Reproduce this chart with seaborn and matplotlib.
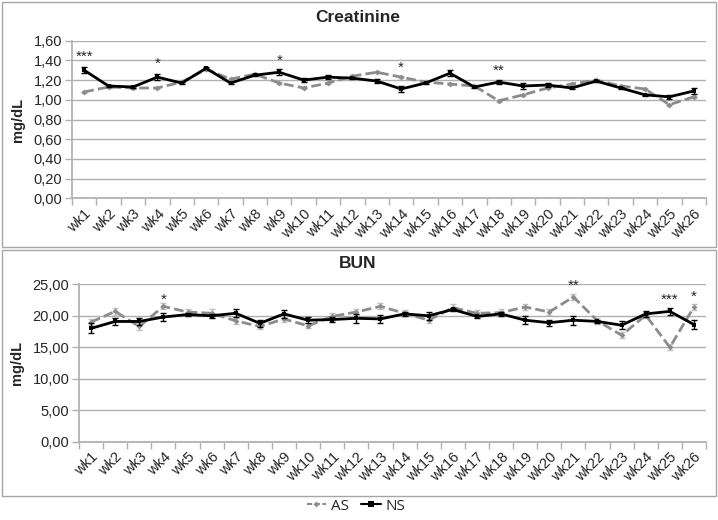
import numpy as np
import pandas as pd
import seaborn as sns
import matplotlib.pyplot as plt
from matplotlib.ticker import FuncFormatter, FixedLocator
from matplotlib.patches import Rectangle
from matplotlib.lines import Line2D

weeks = ['wk%d' % i for i in range(1, 27)]

# kreatinin (mg/dL)
crea_as = [1.08, 1.13, 1.12, 1.12, 1.18, 1.31, 1.21, 1.26, 1.17, 1.12, 1.17, 1.24, 1.28,
           1.23, 1.18, 1.16, 1.14, 0.99, 1.05, 1.12, 1.16, 1.20, 1.14, 1.11, 0.95, 1.03]
crea_as_err = [0.01, 0.01, 0.01, 0.01, 0.01, 0.02, 0.01, 0.01, 0.01, 0.01, 0.01, 0.01, 0.01,
               0.01, 0.01, 0.01, 0.01, 0.01, 0.01, 0.01, 0.01, 0.01, 0.01, 0.01, 0.01, 0.01]
crea_ns = [1.30, 1.14, 1.13, 1.23, 1.17, 1.32, 1.17, 1.25, 1.28, 1.20, 1.23, 1.22, 1.19,
           1.11, 1.17, 1.27, 1.13, 1.18, 1.14, 1.15, 1.12, 1.19, 1.12, 1.05, 1.03, 1.09]
crea_ns_err = [0.03, 0.01, 0.01, 0.03, 0.01, 0.01, 0.01, 0.01, 0.03, 0.02, 0.02, 0.01, 0.02,
               0.03, 0.01, 0.03, 0.01, 0.02, 0.03, 0.02, 0.01, 0.01, 0.01, 0.01, 0.02, 0.03]

# BUN (mg/dL)
bun_as = [19.0, 20.7, 18.3, 21.5, 20.6, 20.4, 19.2, 18.3, 19.5, 18.4, 19.9, 20.6, 21.5,
          20.4, 19.3, 21.3, 20.4, 20.5, 21.4, 20.6, 23.0, 19.2, 16.9, 20.1, 15.0, 21.4]
bun_as_err = [0.5, 0.5, 0.5, 0.5, 0.5, 0.6, 0.5, 0.4, 0.5, 0.4, 0.5, 0.5, 0.5,
              0.5, 0.5, 0.5, 0.5, 0.5, 0.5, 0.5, 0.5, 0.5, 0.5, 0.5, 0.5, 0.5]
bun_ns = [18.0, 19.1, 19.1, 19.8, 20.2, 20.0, 20.4, 18.8, 20.3, 19.3, 19.4, 19.6, 19.5,
          20.3, 20.0, 21.0, 19.9, 20.3, 19.3, 18.9, 19.3, 19.1, 18.5, 20.3, 20.7, 18.6]
bun_ns_err = [0.8, 0.6, 0.6, 0.6, 0.3, 0.3, 0.6, 0.6, 0.6, 0.5, 0.4, 0.7, 0.7,
              0.3, 0.6, 0.3, 0.3, 0.3, 0.6, 0.5, 0.7, 0.3, 0.6, 0.5, 0.6, 0.7]

# anlamlılık yıldızları: (hafta indeksi, y, metin)
crea_stars = [(0, 1.37, '***'), (3, 1.29, '*'), (8, 1.32, '*'), (13, 1.25, '*'), (17, 1.22, '**')]
bun_stars = [(3, 21.4, '*'), (20, 23.6, '**'), (24, 21.5, '***'), (25, 21.9, '*')]

sns.set_theme(style='white')
plt.rcParams['font.family'] = ['Liberation Sans', 'DejaVu Sans']

AS_COLOR = '#8c8c8c'
GRID = '#b0b0b0'

fig = plt.figure(figsize=(7.18, 5.2), dpi=100)
ax1 = fig.add_axes([72 / 718, 1 - 198.3 / 520, 634 / 718, 157.6 / 520])
ax2 = fig.add_axes([79 / 718, 1 - 441.7 / 520, 627 / 718, 157.4 / 520])

# panel çerçeveleri
fig.patches.append(Rectangle((2 / 718, 1 - 247 / 520), 714 / 718, 245 / 520,
                             transform=fig.transFigure, fill=False, ec='#a6a6a6', lw=1))
fig.patches.append(Rectangle((2 / 718, 1 - 496 / 520), 714 / 718, 246 / 520,
                             transform=fig.transFigure, fill=False, ec='#a6a6a6', lw=1))


def draw_panel(ax, as_vals, as_err, ns_vals, ns_err, ymax, step, stars, fmt):
    df = pd.DataFrame({'x': np.arange(len(weeks)), 'AS': as_vals, 'NS': ns_vals})
    x = df['x']
    ax.errorbar(x, as_vals, yerr=as_err, fmt='none', ecolor='#c0c0c0', elinewidth=1, capsize=2, zorder=2)
    sns.lineplot(data=df, x='x', y='AS', ax=ax, color=AS_COLOR, lw=2,
                 marker='D', markersize=3, markeredgewidth=0, zorder=3)
    ax.lines[-1].set_linestyle((0, (3.5, 1.5)))
    ax.errorbar(x, ns_vals, yerr=ns_err, fmt='none', ecolor='black', elinewidth=1, capsize=2, zorder=4)
    sns.lineplot(data=df, x='x', y='NS', ax=ax, color='black', lw=2,
                 marker='s', markersize=3.5, markeredgewidth=0, zorder=5)

    ax.set_xlim(-0.5, len(weeks) - 0.5)
    ax.set_ylim(0, ymax)
    ax.set_yticks(np.arange(0, ymax + step / 2, step))
    ax.yaxis.set_major_formatter(FuncFormatter(lambda v, p: fmt.format(v).replace('.', ',')))
    ax.set_xticks(np.arange(len(weeks)))
    ax.set_xticklabels(weeks, rotation=45, ha='right', rotation_mode='anchor', fontsize=10.5)
    ax.xaxis.set_minor_locator(FixedLocator(np.arange(-0.5, len(weeks), 1)))
    ax.tick_params(axis='x', which='major', length=0, pad=6)
    ax.tick_params(axis='x', which='minor', length=5, color=GRID, width=1, bottom=True)
    ax.tick_params(axis='y', length=5, color=GRID, width=1, left=True, labelsize=10.5, pad=2)
    ax.grid(axis='y', color=GRID, lw=1)
    ax.set_axisbelow(True)
    for s in ['top', 'right']:
        ax.spines[s].set_visible(False)
    ax.spines['left'].set_color(GRID)
    ax.spines['bottom'].set_color(GRID)
    ax.set_xlabel('')
    ax.set_ylabel('mg/dL', fontsize=10.5, fontweight='bold', labelpad=6)
    for i, yv, t in stars:
        ax.text(i, yv, t, ha='center', va='bottom', fontsize=11)


draw_panel(ax1, crea_as, crea_as_err, crea_ns, crea_ns_err, 1.6, 0.2, crea_stars, '{:.2f}')
draw_panel(ax2, bun_as, bun_as_err, bun_ns, bun_ns_err, 25, 5, bun_stars, '{:.2f}')

fig.text(358 / 718, 1 - 18 / 520, 'Creatinine', ha='center', va='center', fontsize=12.5, fontweight='bold')
fig.text(358 / 718, 1 - 263 / 520, 'BUN', ha='center', va='center', fontsize=12.5, fontweight='bold')

handles = [Line2D([], [], color=AS_COLOR, lw=1.5, ls=(0, (2.5, 1.2)), marker='D', markersize=3, markeredgewidth=0),
           Line2D([], [], color='black', lw=1.5, marker='s', markersize=4, markeredgewidth=0)]
fig.legend(handles, ['AS', 'NS'], loc='center', bbox_to_anchor=(356 / 718, 1 - 506 / 520), ncol=2,
           frameon=False, handlelength=1.3, handletextpad=0.3, columnspacing=0.8,
           prop={'family': ['Open Sans', 'DejaVu Sans'], 'size': 11})

fig.savefig('out.png', dpi=100)
